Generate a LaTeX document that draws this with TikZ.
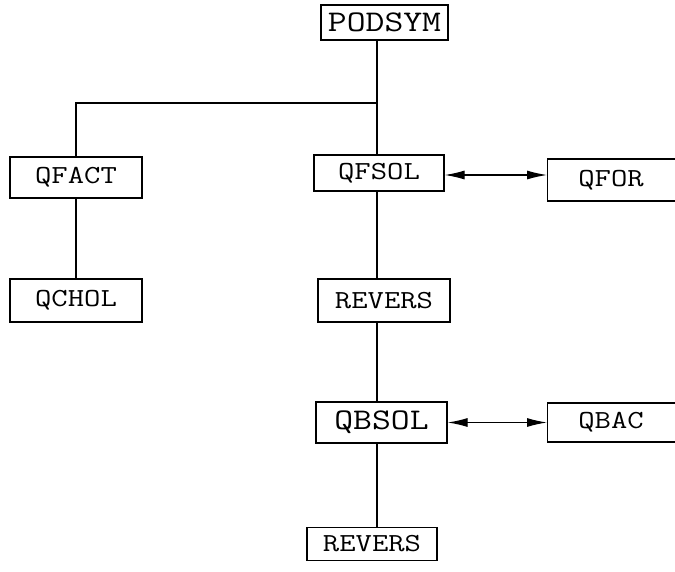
\documentclass[tikz,border=0pt]{standalone}
\usepackage{graphicx}
\usetikzlibrary{arrows.meta}
\newcommand{\widetext}[1]{\scalebox{1.22}[1]{#1}}
\tikzset{
  box/.style={draw, line width=1.2pt, rectangle, inner sep=0pt},
  lbl/.style={font=\ttfamily\fontsize{26}{26}\selectfont},
  biglbl/.style={font=\ttfamily\fontsize{30}{30}\selectfont},
  wire/.style={line width=1.2pt},
  biarrow/.style={wire, {Latex[length=20pt,width=9pt]}-{Latex[length=20pt,width=9pt]}}
}
\begin{document}
\begin{tikzpicture}[x=1pt,y=-1pt]
\useasboundingbox (0,0) rectangle (675,571);
\begin{scope}
\clip (0,0) rectangle (675,571);
% boxes
\node[box, biglbl, minimum width=127pt, minimum height=35pt] (PODSYM) at (384.5,22.5) {\widetext{PODSYM}};
\node[box, lbl, minimum width=132pt, minimum height=41pt] (QFACT) at (76,177.5) {\widetext{QFACT}};
\node[box, lbl, minimum width=132pt, minimum height=43pt] (QCHOL) at (76,300.5) {\widetext{QCHOL}};
\node[box, lbl, minimum width=130pt, minimum height=36pt] (QFSOL) at (379,173) {\widetext{QFSOL}};
\node[box, lbl, minimum width=132pt, minimum height=43pt] (REV1) at (384,300.5) {\widetext{REVERS}};
\node[box, biglbl, minimum width=131pt, minimum height=41pt] (QBSOL) at (381.5,422.5) {\widetext{QBSOL}};
\node[box, lbl, minimum width=130pt, minimum height=33pt] (REV2) at (372,544) {\widetext{REVERS}};
% boxes cut by the right edge
\node[box, minimum width=160pt, minimum height=42pt, anchor=west] (QFOR) at (547,180) {};
\node[lbl] (QFORt) at (611,180) {\widetext{QFOR}};
\node[box, minimum width=160pt, minimum height=39pt, anchor=west] (QBAC) at (547,422.5) {};
\node[lbl] (QBACt) at (611,422.5) {\widetext{QBAC}};
% connectors
\coordinate (j) at (377,103);
\draw[wire] (j |- PODSYM.south) -- (j |- QFSOL.north);
\draw[wire] (j) -- (j -| QFACT.north) -- (QFACT.north);
\draw[wire] (QFACT.south) -- (QCHOL.north);
\draw[wire] (j |- QFSOL.south) -- (j |- REV1.north);
\draw[wire] (j |- REV1.south) -- (j |- QBSOL.north);
\draw[wire] (j |- QBSOL.south) -- (j |- REV2.north);
\draw[biarrow] (QFSOL.east |- 0,175) -- (QFOR.west |- 0,175);
\draw[biarrow] (QBSOL.east) -- (QBAC.west);
\end{scope}
\end{tikzpicture}
\end{document}
